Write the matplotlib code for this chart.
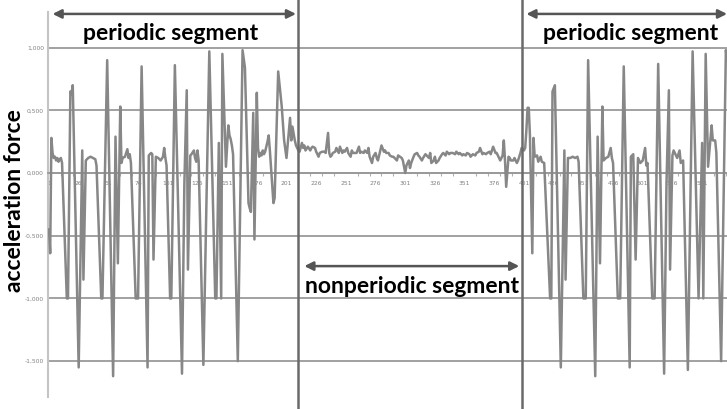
import matplotlib
matplotlib.use("Agg")
import matplotlib.pyplot as plt
import numpy as np

# ---------------- data (sample index, acceleration value) ----------------
left_s = [1, 2, 3, 4, 5, 6, 7, 8, 9, 10, 11, 12, 16, 17, 19, 20, 21, 26, 29, 30,
          32, 34, 36, 38, 40, 41, 45, 46, 50, 55, 57, 59, 61, 62, 63, 65, 67, 68, 69, 70,
          74, 76, 79, 84, 85, 87, 88, 89, 91, 93, 95, 97, 98, 99, 100, 103, 104, 107, 113, 115,
          117, 118, 120, 121, 123, 124, 125, 126, 127, 131, 136, 141, 142, 144, 146, 147, 150, 152, 153, 154,
          155, 156, 160, 164, 166, 169, 170, 171, 173, 174, 176, 177, 178, 179, 180, 181, 182, 183, 185, 186,
          187, 189, 190, 191, 194, 197, 199, 201, 204, 205, 206, 208, 209, 211]
left_v = [-0.45, -0.64, 0.28, 0.16, 0.12, 0.13, 0.10, 0.12, 0.09, 0.11, 0.12, 0.08, -1.00, -1.00, 0.65, 0.63, 0.70, -1.55, 0.18, -0.85,
          0.10, 0.12, 0.13, 0.12, 0.11, 0.06, -1.00, -1.00, 0.90, -1.62, 0.29, -0.72, 0.53, 0.08, 0.12, 0.13, 0.19, 0.12, 0.15, 0.08,
          -1.00, -1.00, 0.85, -1.55, 0.14, 0.16, 0.15, -0.69, 0.13, 0.12, 0.10, 0.13, 0.20, 0.12, 0.06, -1.00, -1.00, 0.86, -1.60, -0.08,
          0.66, -0.77, 0.14, 0.15, 0.18, 0.12, 0.09, 0.18, 0.10, -1.53, 0.97, -1.00, -1.00, 0.24, -1.00, 0.95, 0.05, 0.38, 0.30, 0.27,
          0.22, 0.15, -1.50, 0.98, 0.84, -0.24, -0.28, -0.31, 0.48, -0.53, 0.64, 0.20, 0.13, 0.16, 0.14, 0.18, 0.15, 0.17, 0.25, 0.30,
          0.18, -0.10, -0.24, -0.20, 0.81, 0.53, 0.26, 0.12, 0.44, 0.26, 0.37, 0.26, 0.22, 0.18]

mid_s = [212, 214, 215, 216, 217, 219, 221, 222, 223, 225, 226, 228, 229, 231, 233, 234, 236, 237, 238, 239,
         240, 242, 243, 245, 246, 248, 249, 250, 252, 253, 255, 256, 257, 260, 262, 263, 264, 266, 267, 269,
         270, 271, 273, 274, 276, 277, 278, 281, 283, 284, 285, 287, 288, 290, 291, 292, 294, 295, 298, 299,
         301, 302, 304, 305, 306, 308, 309, 311, 312, 313, 315, 316, 318, 319, 321, 322, 323, 325, 326, 327,
         329, 330, 332, 333, 335, 336, 338, 339, 341, 343, 344, 346, 347, 349, 350, 352, 353, 355, 356, 358,
         360, 361, 363, 364, 366, 367, 369, 370, 372, 373, 375, 377, 378, 380, 381, 383, 384, 385, 386, 388,
         389, 390, 392, 393, 395, 396, 397, 398]
mid_v = [0.17, 0.24, 0.20, 0.22, 0.18, 0.21, 0.18, 0.20, 0.21, 0.20, 0.17, 0.13, 0.16, 0.17, 0.17, 0.16, 0.32, 0.16, 0.13, 0.14,
         0.16, 0.17, 0.20, 0.16, 0.21, 0.16, 0.18, 0.17, 0.20, 0.16, 0.13, 0.18, 0.16, 0.16, 0.21, 0.16, 0.17, 0.16, 0.18, 0.16,
         0.20, 0.13, 0.08, 0.13, 0.16, 0.12, 0.10, 0.22, 0.17, 0.18, 0.16, 0.16, 0.14, 0.13, 0.13, 0.12, 0.10, 0.14, 0.12, 0.10,
         0.00, 0.06, 0.10, 0.04, 0.08, 0.13, 0.15, 0.16, 0.14, 0.13, 0.10, 0.12, 0.15, 0.14, 0.12, 0.16, 0.08, 0.10, 0.13, 0.08,
         0.10, 0.12, 0.15, 0.16, 0.14, 0.17, 0.15, 0.16, 0.16, 0.15, 0.17, 0.15, 0.16, 0.14, 0.15, 0.14, 0.16, 0.15, 0.13, 0.15,
         0.14, 0.16, 0.17, 0.20, 0.15, 0.16, 0.15, 0.16, 0.17, 0.15, 0.21, 0.16, 0.16, 0.12, 0.10, 0.14, 0.26, 0.10, -0.11, 0.13,
         0.12, 0.10, 0.10, 0.12, 0.08, 0.10, 0.13, 0.16]

right_s = [399, 401, 402, 403, 404, 405, 406, 408, 409, 410, 412, 413, 415, 416, 418, 423, 424, 425, 427, 432,
           435, 436, 438, 440, 442, 444, 446, 447, 451, 453, 455, 461, 463, 465, 467, 468, 470, 472, 474, 475,
           476, 480, 482, 485, 490, 491, 493, 495, 497, 499, 501, 503, 504, 505, 509, 511, 514, 519, 521, 523,
           524, 526, 527, 530, 532, 533, 535, 539, 543, 548, 551, 552, 554, 556, 559, 560, 562, 563, 567, 571, 572]
right_v = [0.20, 0.18, 0.20, 0.34, 0.52, 0.52, 0.30, -0.64, 0.28, 0.13, 0.14, 0.09, 0.13, 0.09, 0.08, -1.00, -1.00, 0.65, 0.70, -1.55,
           0.18, -0.85, 0.12, 0.12, 0.13, 0.12, 0.13, 0.09, -1.00, -1.00, 0.90, -1.62, 0.29, -0.72, 0.53, 0.10, 0.12, 0.13, 0.20, 0.12,
           0.08, -1.00, -1.00, 0.85, -1.55, 0.13, 0.15, -0.69, 0.12, 0.08, 0.10, 0.20, 0.06, 0.08, -1.00, -1.00, 0.87, -1.60, -0.08, 0.66,
           -0.77, 0.14, 0.18, 0.12, 0.18, 0.08, 0.10, -1.57, 0.97, -1.00, 0.24, -1.00, 0.95, 0.05, 0.38, 0.26, 0.26, 0.16, -1.50, 0.98, 0.90]

boundaries = [211, 399]
x_tick_values = list(range(1, 552, 25))
y_tick_values = [-1.5, -1.0, -0.5, 0.0, 0.5, 1.0]
y_tick_labels = ["-1,500", "-1,000", "-0,500", "0,000", "0,500", "1,000"]
seg_labels = ["periodic segment", "nonperiodic segment", "periodic segment"]
y_label = "acceleration force"

# ---------------- figure ----------------
W, H = 727, 409
fig = plt.figure(figsize=(W / 100, H / 100), dpi=100)
ax = fig.add_axes([48 / W, (H - 397) / H, 1 - 48 / W, (397 - 12) / H])

xs = left_s + mid_s + right_s
vs = left_v + mid_v + right_v
ax.plot(xs, vs, color="#878787", lw=1.8, solid_joinstyle="round", zorder=3)

ax.set_xlim(0.16, 571.95)
ax.set_ylim(-1.786, 1.284)

for sp in ["top", "right"]:
    ax.spines[sp].set_visible(False)
ax.spines["left"].set_color("#c4c4c4")
ax.spines["left"].set_linewidth(1.5)
ax.spines["bottom"].set_position(("data", 0))

ax.set_yticks(y_tick_values)
ax.set_yticklabels(y_tick_labels)
ax.tick_params(axis="y", length=0, labelsize=4.3, labelcolor="#808080", pad=3)
for y in y_tick_values:
    ax.axhline(y, color="#9a9a9a", lw=1.3, zorder=1)

ax.set_xticks(x_tick_values)
ax.set_xticklabels([str(v) for v in x_tick_values])
ax.set_xticks(list(range(1, 572, 10)), minor=True)
ax.tick_params(axis="x", which="major", length=0, labelsize=4.3, labelcolor="#808080", pad=6)
ax.tick_params(axis="x", which="minor", length=2, color="#b0b0b0", width=0.8)
ax.spines["bottom"].set_color("#9a9a9a")
ax.spines["bottom"].set_linewidth(1.3)

for b in boundaries:
    ax.axvline(b, ymin=-0.05, ymax=1.05, color="#6a6a6a", lw=1.8, clip_on=False, zorder=4)

tr = ax.get_xaxis_transform()
font = dict(family="Lato", weight="bold", size=16.5, color="black")
arrow = dict(arrowstyle="<|-|>", color="#555555", lw=1.8, mutation_scale=13, shrinkA=0, shrinkB=0)

ax.annotate("", xy=(4, 0.995), xytext=(boundaries[0] - 2, 0.995), xycoords=tr, textcoords=tr,
            arrowprops=arrow, annotation_clip=False)
ax.text(103.7, 0.945, seg_labels[0], transform=tr, ha="center", va="center", **font)

ax.annotate("", xy=(boundaries[1] + 4, 0.995), xytext=(572, 0.995), xycoords=tr, textcoords=tr,
            arrowprops=arrow, annotation_clip=False)
ax.text(490.5, 0.945, seg_labels[2], transform=tr, ha="center", va="center", **font)

ax.annotate("", xy=(boundaries[0] + 5, 0.340), xytext=(boundaries[1] - 2, 0.340), xycoords=tr, textcoords=tr,
            arrowprops=arrow, annotation_clip=False)
ax.text(307.1, 0.288, seg_labels[1], transform=tr, ha="center", va="center", **font)

fig.text(15 / W, 1 - 201 / H, y_label, rotation=90, ha="center", va="center", **font)

fig.savefig("out.png", dpi=100, facecolor="white")
